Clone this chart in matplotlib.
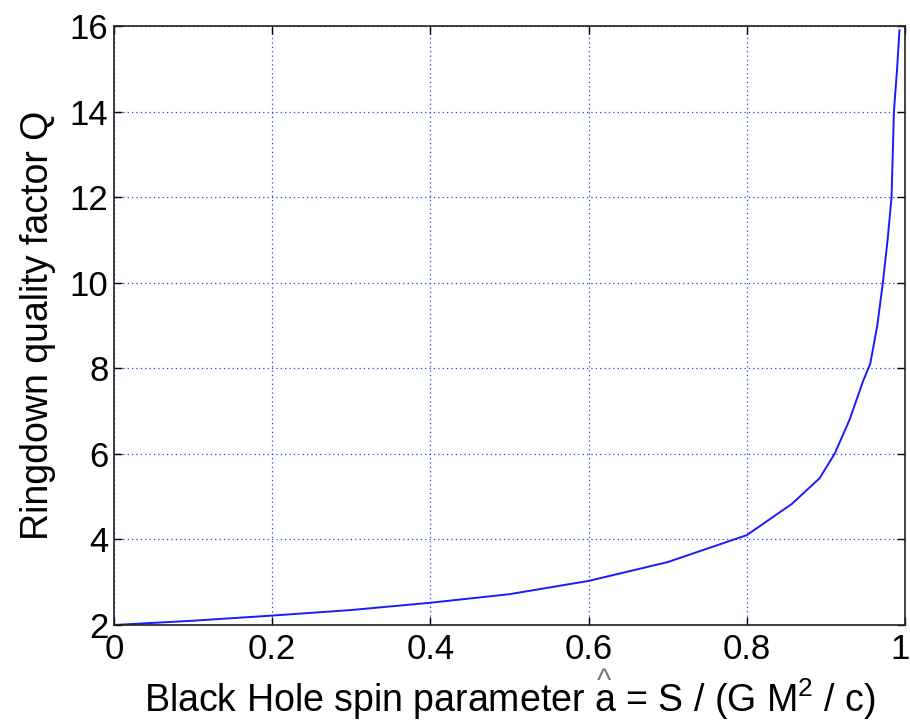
import matplotlib
matplotlib.use("Agg")
import matplotlib.pyplot as plt
import matplotlib.transforms as mtransforms

# spin parameter a and quality factor Q
spin = [0.0, 0.05, 0.1, 0.2, 0.3, 0.4, 0.5, 0.6, 0.7, 0.8, 0.857, 0.892,
        0.911, 0.93, 0.947, 0.956, 0.965, 0.972, 0.978, 0.983, 0.986, 0.99, 0.993]
quality = [2.0, 2.05, 2.1, 2.22, 2.35, 2.52, 2.72, 3.03, 3.47, 4.1, 4.83, 5.43,
           6.0, 6.8, 7.7, 8.1, 9.0, 10.0, 11.0, 12.0, 14.0, 15.0, 15.9]

xticks = [0, 0.2, 0.4, 0.6, 0.8, 1]
xticklabels = ["0", "0.2", "0.4", "0.6", "0.8", "1"]
yticks = [2, 4, 6, 8, 10, 12, 14, 16]

plt.rcParams['font.family'] = ['Liberation Sans', 'DejaVu Sans']
plt.rcParams['mathtext.default'] = 'regular'

fig = plt.figure(figsize=(9.1, 7.28), dpi=100)
ax = fig.add_axes([0.1253, 0.1415, 0.8692, 0.8228])

ax.plot(spin, quality, color='#1a1aff', linewidth=1.4)

ax.set_xlim(0, 1)
ax.set_ylim(2, 16)
ax.set_xticks(xticks)
ax.set_xticklabels(xticklabels)
ax.set_yticks(yticks)
ax.grid(True, color='#2040ff', linestyle=(0, (1, 2.5)), linewidth=0.9)
ax.tick_params(direction='in', length=6, width=1, top=True, right=True,
               labelsize=25, pad=4)
ax.tick_params(axis='x', pad=6)
for s in ax.spines.values():
    s.set_linewidth(1.2)
    s.set_color('#222222')

# nudge the last x tick label so it stays inside the figure
last = ax.get_xticklabels()[-1]
last.set_transform(last.get_transform() +
                   mtransforms.ScaledTranslation(-5 / 100, 0, fig.dpi_scale_trans))

ax.set_ylabel("Ringdown quality factor Q", fontsize=27, labelpad=10)
prefix = "Black Hole spin parameter "
xl = ax.set_xlabel(prefix + "a = S / (G M$^2$ / c)", fontsize=27, labelpad=7)

# grey hat over the "a"
fig.canvas.draw()
r = fig.canvas.get_renderer()
bb = xl.get_window_extent(r)
tmp = fig.text(0, 0, prefix + "a", fontsize=27)
tmp2 = fig.text(0, 0, prefix, fontsize=27)
wa = tmp.get_window_extent(r).width
wp = tmp2.get_window_extent(r).width
tmp.remove()
tmp2.remove()
xa = bb.x0 + (wp + wa) / 2
fig.text(xa / fig.bbox.width, (bb.y1 - 6) / fig.bbox.height, "^",
         fontsize=22, color='#777777', ha='center', va='center')

fig.savefig("out.png", dpi=100)
